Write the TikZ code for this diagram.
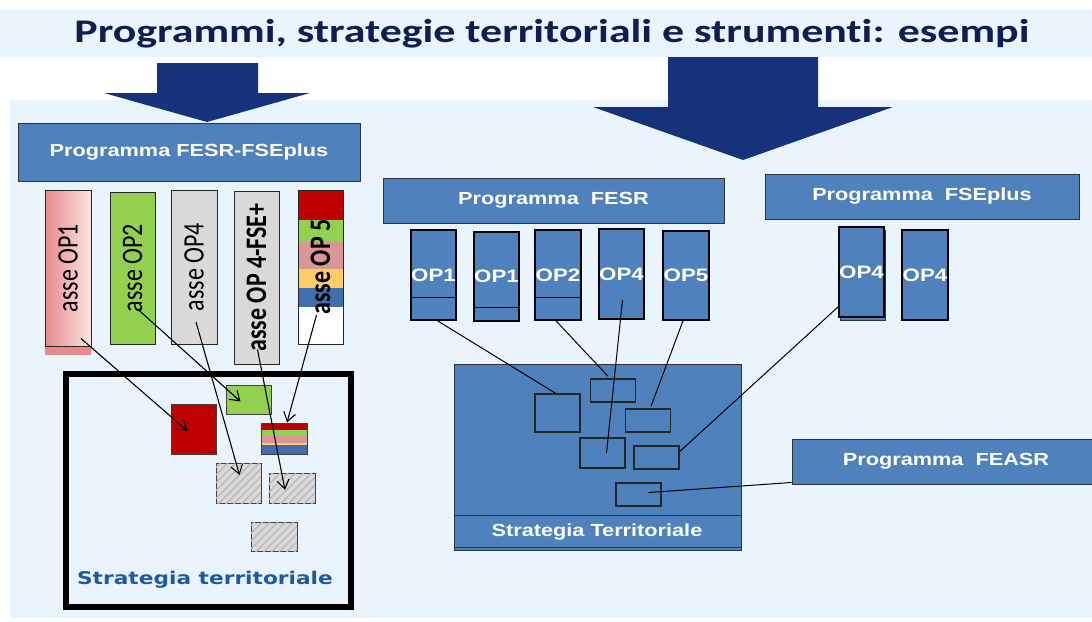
\documentclass[tikz,border=0pt]{standalone}
\usepackage{fontspec}
\setmainfont{Liberation Sans}
\newfontfamily\titlefont{Carlito}[FakeStretch=1.33,Ligatures=NoCommon]
\newfontfamily\boxfont{Liberation Sans}[FakeStretch=1.24]
\newfontfamily\verdfont{DejaVu Sans}[FakeStretch=1.24]
\newfontfamily\calfont{Carlito}[Ligatures=NoCommon]
\usetikzlibrary{arrows.meta,patterns.meta,calc}

\definecolor{bgblue}{RGB}{234,244,253}
\definecolor{boxblue}{RGB}{79,129,189}
\definecolor{navy}{RGB}{22,50,122}
\definecolor{titlenavy}{RGB}{14,30,82}
\definecolor{opred}{RGB}{192,0,0}
\definecolor{opgreen}{RGB}{146,208,80}
\definecolor{opgrey}{RGB}{217,217,217}
\definecolor{oppink}{RGB}{218,150,148}
\definecolor{opyellow}{RGB}{255,204,102}
\definecolor{opblue}{RGB}{65,110,175}
\definecolor{pinkdark}{RGB}{232,138,138}
\definecolor{pinklight}{RGB}{250,228,228}
\definecolor{labelblue}{RGB}{31,90,160}

\newcommand{\vlabel}[1]{\rotatebox{90}{\scalebox{1}[1.24]{#1}}}

\begin{document}
\begin{tikzpicture}[x=1pt,y=-1pt,
  prog/.style={draw=black!80,line width=1pt,fill=boxblue,text=white,inner sep=0pt,
    font=\boxfont\bfseries\fontsize{17.5}{20}\selectfont},
  asse/.style={draw=black!85,line width=1pt,inner sep=0pt,
    font=\calfont\fontsize{24}{28}\selectfont},
  opcol/.style={draw=black,line width=1.6pt,fill=boxblue,text=white,inner sep=0pt,
    font=\boxfont\bfseries\fontsize{18}{20}\selectfont},
  tile/.style={draw=black!75,line width=1pt,inner sep=0pt},
  hatch/.style={tile,fill=opgrey,postaction={pattern={Lines[angle=45,distance=5.5pt,line width=1.3pt]},pattern color=black!28}},
  slot/.style={draw=black!85,line width=1.5pt,inner sep=0pt,minimum width=45pt},
  link/.style={black,line width=1pt},
  into/.style={black,line width=1.1pt,-{Straight Barb[length=9pt,width=12pt]}}]

\useasboundingbox (0,0) rectangle (1092,621);
\fill[bgblue] (0,10) rectangle (1092,57);
\fill[bgblue] (10,100) rectangle (1092,618);

\node[font=\titlefont\bfseries\fontsize{33}{38}\selectfont,text=titlenavy] (title) at (552,34)
  {Programmi, strategie territoriali e strumenti: esempi};

\fill[navy] (157,63) -- (258,63) -- (258,93) -- (310,93) -- (207,122) -- (104,93) -- (157,93) -- cycle;
\fill[navy] (668,57) -- (818,57) -- (818,107) -- (893,107) -- (743,160) -- (593,107) -- (668,107) -- cycle;

% programma plurifondo
\node[prog,minimum width=342pt,minimum height=58pt] (fesrfse) at (189,152) {Programma FESR-FSEplus};

\fill[pinkdark] (45,346) rectangle (91,355);
\node[asse,left color=pinkdark,right color=pinklight,minimum width=46pt,minimum height=156pt] (a1) at (68,268) {\vlabel{asse OP1}};
\node[asse,fill=opgreen,minimum width=45pt,minimum height=152pt] (a2) at (132.5,268) {\vlabel{asse OP2}};
\node[asse,fill=opgrey,minimum width=46pt,minimum height=154pt] (a3) at (194,267) {\vlabel{asse OP4}};
\node[asse,fill=opgrey,minimum width=45pt,minimum height=173pt] (a4) at (256.5,277.5) {\vlabel{\bfseries asse OP 4-FSE+}};
\fill[white] (298,190) rectangle (343,344);
\fill[opred] (298,190) rectangle (343,220);
\fill[opgreen] (298,220) rectangle (343,242);
\fill[oppink] (298,242) rectangle (343,269);
\fill[opyellow] (298,269) rectangle (343,288);
\fill[opblue] (298,288) rectangle (343,307);
\node[asse,minimum width=45pt,minimum height=154pt] (a5) at (320.5,267) {\vlabel{\bfseries asse OP 5}};

\node[draw=black,line width=6pt,fill=bgblue,inner sep=0pt,minimum width=285pt,minimum height=233pt] (strat) at (208.5,490.5) {};
\node[font=\verdfont\bfseries\fontsize{17.5}{20}\selectfont,text=labelblue] (stratlab) at (205,580) {Strategia territoriale};

\node[tile,fill=opred,minimum width=45pt,minimum height=50pt] (red) at (193.5,429) {};
\node[tile,fill=opgreen,minimum width=45pt,minimum height=29pt] (green) at (248.5,399.5) {};
\fill[opred] (261,423) rectangle (307,430);
\fill[opgreen] (261,430) rectangle (307,436);
\fill[oppink] (261,436) rectangle (307,443);
\fill[opyellow] (261,443) rectangle (307,445);
\fill[opblue] (261,445) rectangle (307,454);
\node[tile,minimum width=46pt,minimum height=31pt] (mix) at (284,438.5) {};
\node[hatch,minimum width=45pt,minimum height=40pt] (h1) at (238.5,483) {};
\node[hatch,minimum width=46pt,minimum height=30pt] (h2) at (292,488) {};
\node[hatch,minimum width=46pt,minimum height=29pt] (h3) at (274,536.5) {};

\draw[into] ($(a1.south)+(13,-8)$) -- ($(red.center)+(-6,2)$);
\draw[into] ($(a2.center)+(5,41)$) -- ($(green.center)+(-8,2)$);
\draw[into] ($(a3.center)+(2,55)$) -- ($(h1.center)+(1,-8)$);
\draw[into] ($(a4.center)+(1,72)$) -- ($(h2.center)+(-7,2)$);
\draw[into] ($(a5.center)+(-4,48)$) -- ($(mix.north)+(3,0)$);

% programmi monofondo
\node[prog,minimum width=341pt,minimum height=45pt] (fesr) at (553.5,200.5) {Programma\ \ FESR};
\node[prog,minimum width=314pt,minimum height=45pt] (fse) at (922,196.5) {Programma\ \ FSEplus};
\node[prog,minimum width=308pt,minimum height=45pt] (feasr) at (946,461.5) {Programma\ \ FEASR};

\node[opcol,minimum width=45pt,minimum height=90pt] (c1) at (433.5,275) {OP1};
\node[opcol,minimum width=45pt,minimum height=89pt] (c2) at (496.5,276.5) {OP1};
\node[opcol,minimum width=46pt,minimum height=90pt] (c3) at (558,275) {OP2};
\node[opcol,minimum width=45pt,minimum height=90pt] (c4) at (621.5,274) {OP4};
\node[opcol,minimum width=46pt,minimum height=89pt] (c5) at (686,275.5) {OP5};
\draw[black,line width=1.3pt] ($(c1.south west)+(0,-23)$) -- ($(c1.south east)+(0,-23)$);
\draw[black,line width=1.3pt] ($(c2.south west)+(0,-14)$) -- ($(c2.south east)+(0,-14)$);
\draw[black,line width=1.3pt] ($(c3.south west)+(0,-23)$) -- ($(c3.south east)+(0,-23)$);

\draw[black!80,line width=1pt,fill=boxblue] (840,230) rectangle (885,320);
\node[opcol,minimum width=45pt,minimum height=90pt] (d1) at (861.5,272) {OP4};
\node[opcol,minimum width=46pt,minimum height=90pt] (d2) at (925,275) {OP4};

\node[prog,minimum width=287pt,minimum height=186pt] (strat2) at (597.5,457) {};
\draw[black!80,line width=1pt] ($(strat2.south west)+(0,-35)$) -- ($(strat2.south east)+(0,-35)$);
\draw[black!80,line width=1pt] ($(strat2.south west)+(0,-3)$) -- ($(strat2.south east)+(0,-3)$);
\node[font=\boxfont\bfseries\fontsize{17.5}{20}\selectfont,text=white] (strat2lab) at (597,532) {Strategia Territoriale};

\node[slot,minimum height=38pt] (r1) at (557.5,413) {};
\node[slot,minimum height=23pt] (r2) at (613,390.5) {};
\node[slot,minimum height=23pt] (r3) at (648,420.5) {};
\node[slot,minimum height=30pt] (r4) at (602.5,453) {};
\node[slot,minimum height=23pt] (r5) at (656.5,457.5) {};
\node[slot,minimum height=23pt] (r6) at (638.5,494.5) {};

\draw[link] ($(c1.south)+(4,0)$) -- ($(r1.north)+(-2,0)$);
\draw[link] ($(c3.south)+(-2,0)$) -- ($(r2.north)+(-5,-2)$);
\draw[link] ($(c4.center)+(1,26)$) -- ($(r4.center)+(4,0)$);
\draw[link] ($(c5.south)+(-3,0)$) -- ($(r3.north)+(3,-2)$);
\draw[link] ($(d1.south west)+(0,-11)$) -- ($(r5.east)+(0,-6)$);
\draw[link] ($(feasr.south west)+(0,-2)$) -- ($(r6.center)+(10,-2)$);

\end{tikzpicture}
\end{document}
